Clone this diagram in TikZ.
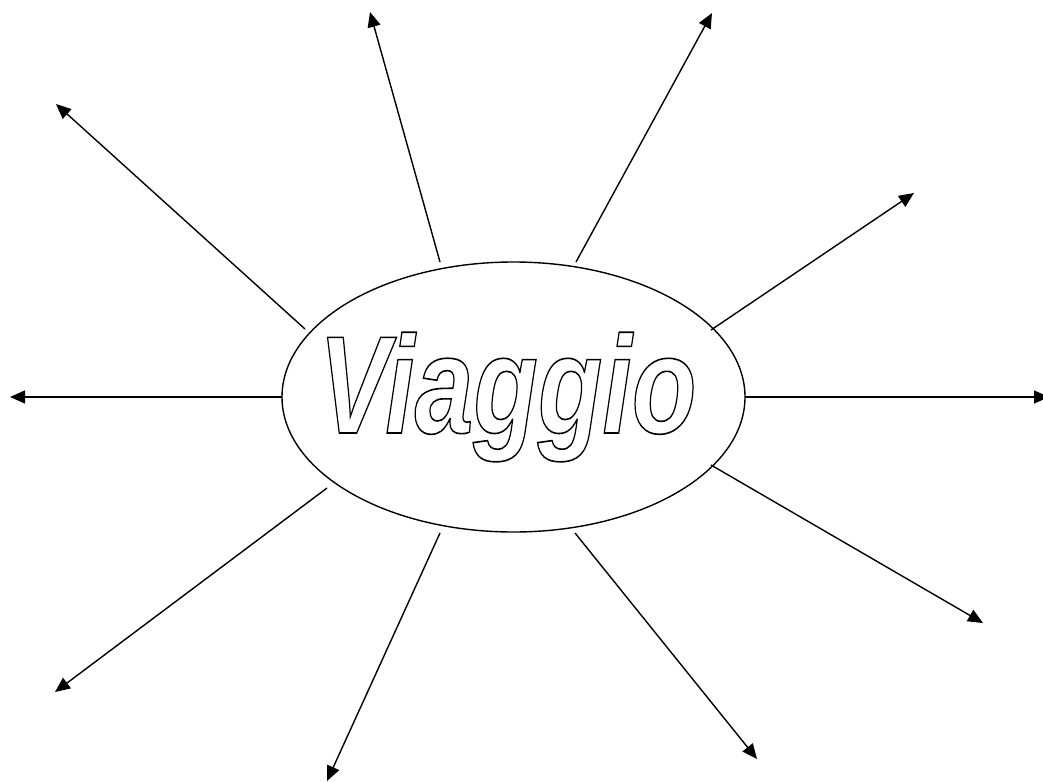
\documentclass[tikz,border=0pt]{standalone}
\usepackage{fontspec}
\usetikzlibrary{shapes.geometric,arrows.meta}
\newfontfamily\viafont{Liberation Sans}
\newcommand{\outlinetext}[1]{\special{pdf:literal direct 1 Tr 1.6 w}#1\special{pdf:literal direct 0 Tr}}
\begin{document}
\begin{tikzpicture}[x=1pt,y=-1pt,
  ray/.style={line width=1.4pt,-{Triangle[length=15pt,width=13pt]}},
  hub/.style={draw,ellipse,line width=1.4pt,minimum width=463pt,minimum height=270pt,inner sep=0pt}]
\useasboundingbox (0,0) rectangle (1043,781);
\node[hub] (c) at (513.5,397) {};
\node[anchor=base,inner sep=0pt] (t) at (507.5,433)
  {\scalebox{0.76}[1]{\fontsize{139}{140}\selectfont\viafont\bfseries\itshape\outlinetext{Viaggio}}};
% start points near the ellipse
\coordinate (s1) at (305,329);
\coordinate (s2) at (440,262);
\coordinate (s3) at (576,262);
\coordinate (s4) at (711,330);
\coordinate (s5) at (745,397);
\coordinate (s6) at (711,465);
\coordinate (s7) at (575,533);
\coordinate (s8) at (440,533);
\coordinate (s9) at (327,488);
\coordinate (s10) at (282,397);
% arrow tips
\coordinate (e1) at (56,104);
\coordinate (e2) at (370,12);
\coordinate (e3) at (712,13);
\coordinate (e4) at (914,193);
\coordinate (e5) at (1049,397);
\coordinate (e6) at (983,623);
\coordinate (e7) at (757,759);
\coordinate (e8) at (327,781);
\coordinate (e9) at (55,692);
\coordinate (e10) at (10,397);
\foreach \i in {1,...,10} {\draw[ray] (s\i) -- (e\i);}
\end{tikzpicture}
\end{document}
